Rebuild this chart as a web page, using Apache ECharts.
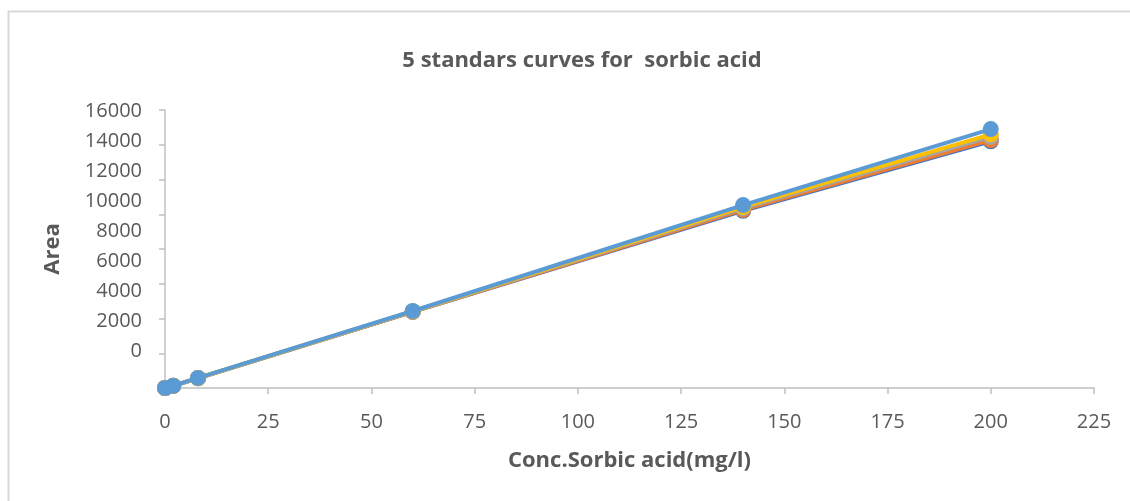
<!DOCTYPE html>
<html>
<head>
<meta charset="utf-8">
<title>5 standars curves for sorbic acid</title>
<script src="https://cdn.jsdelivr.net/npm/echarts@6/dist/echarts.min.js"></script>
<style>
  html, body { margin: 0; padding: 0; background: #ffffff; }
  #chart { width: 1130px; height: 501px; }
</style>
</head>
<body>
<div id="chart"></div>
<script>
// Concentrations of the standards (mg/l)
const concentrations = [0, 2, 8, 60, 140, 200];

// Peak areas of the five calibration runs
const standard1 = [0, 120, 560, 4380, 10200, 14200];
const standard2 = [0, 125, 565, 4390, 10250, 14270];
const standard3 = [0, 125, 570, 4400, 10350, 14450];
const standard4 = [0, 128, 575, 4410, 10420, 14600];
const standard5 = [0, 130, 580, 4430, 10530, 14900];

const seriesNames = ['Standard 1', 'Standard 2', 'Standard 3', 'Standard 4', 'Standard 5'];
const seriesColors = ['#4472C4', '#ED7D31', '#A5A5A5', '#FFC000', '#5B9BD5'];
const seriesData = [standard1, standard2, standard3, standard4, standard5];

// Axis tick values
const xTicks = [0, 25, 50, 75, 100, 125, 150, 175, 200, 225];
const yTicks = [0, 2000, 4000, 6000, 8000, 10000, 12000, 14000, 16000];

const textColor = '#595959';
const font = 'Open Sans';

const chart = echarts.init(document.getElementById('chart'), null, { renderer: 'canvas' });

const series = seriesData.map((values, i) => ({
  name: seriesNames[i],
  type: 'line',
  xAxisIndex: 0,
  yAxisIndex: 0,
  data: concentrations.map((c, j) => [c, values[j]]),
  symbol: 'circle',
  symbolSize: 16,
  lineStyle: { width: 4, color: seriesColors[i] },
  itemStyle: { color: seriesColors[i] },
  z: 2 + i,
  animation: false
}));

const plainNumber = v => String(v);

chart.setOption({
  animation: false,
  backgroundColor: '#ffffff',
  title: {
    text: '5 standars curves for  sorbic acid',
    left: 577,
    top: 45,
    textAlign: 'center',
    textStyle: { fontFamily: font, fontWeight: 'bold', fontSize: 22, color: textColor }
  },
  graphic: [{
    type: 'rect',
    shape: { x: 8.5, y: 11.5, width: 1200, height: 600 },
    style: { fill: 'none', stroke: '#d9d9d9', lineWidth: 2 },
    silent: true,
    z: -1
  }],
  grid: [
    // plotting area
    { left: 165, right: 36, top: 110, bottom: 113 },
    // band that carries the value labels of the area axis
    { left: 165, right: 36, top: 111, bottom: 150 }
  ],
  xAxis: [{
    gridIndex: 0,
    type: 'value',
    min: xTicks[0],
    max: xTicks[xTicks.length - 1],
    interval: 25,
    name: 'Conc.Sorbic acid(mg/l)',
    nameLocation: 'middle',
    nameGap: 62,
    nameTextStyle: { fontFamily: font, fontWeight: 'bold', fontSize: 22, color: textColor },
    axisLine: { show: true, lineStyle: { color: '#bfbfbf', width: 1.5 } },
    axisTick: { show: true, length: 6, lineStyle: { color: '#bfbfbf', width: 1.5 } },
    axisLabel: { fontFamily: font, fontSize: 20, color: textColor, margin: 24, formatter: plainNumber },
    splitLine: { show: false }
  }, {
    gridIndex: 1,
    type: 'value',
    min: 0,
    max: 225,
    show: false
  }],
  yAxis: [{
    gridIndex: 0,
    type: 'value',
    min: yTicks[0],
    max: yTicks[yTicks.length - 1],
    interval: 2000,
    name: 'Area',
    nameLocation: 'middle',
    nameGap: 101,
    nameRotate: 90,
    nameTextStyle: { fontFamily: font, fontWeight: 'bold', fontSize: 22, color: textColor },
    axisLine: { show: true, lineStyle: { color: '#bfbfbf', width: 1.5 } },
    axisTick: { show: true, length: 6, lineStyle: { color: '#bfbfbf', width: 1.5 } },
    axisLabel: { show: false },
    splitLine: { show: false }
  }, {
    gridIndex: 1,
    type: 'value',
    min: yTicks[0],
    max: yTicks[yTicks.length - 1],
    interval: 2000,
    axisLine: { show: false },
    axisTick: { show: false },
    splitLine: { show: false },
    axisLabel: { fontFamily: font, fontSize: 20, color: textColor, margin: 23, formatter: plainNumber }
  }],
  series: series
});
</script>
</body>
</html>
